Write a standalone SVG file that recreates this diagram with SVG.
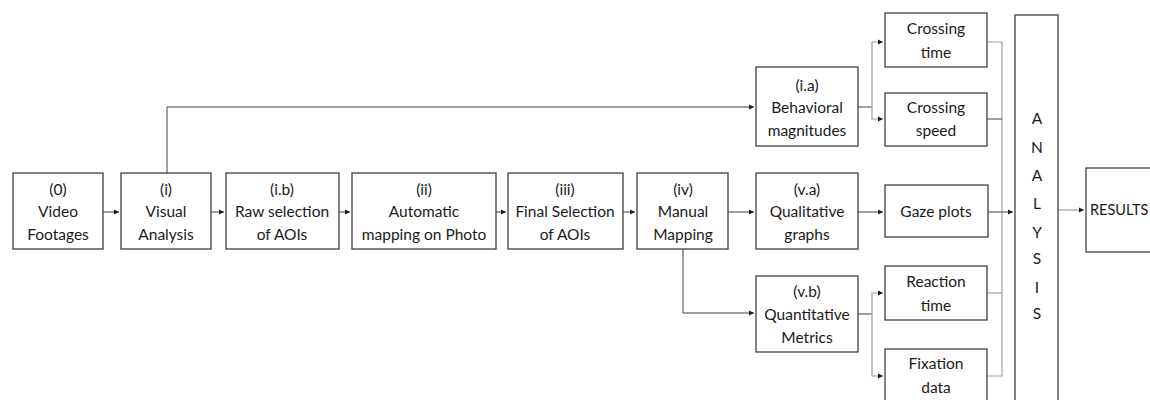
<svg xmlns="http://www.w3.org/2000/svg" width="1150" height="400" viewBox="0 0 1150 400">
<defs>
<marker id="ah" markerWidth="6" markerHeight="6" refX="5" refY="3" orient="auto" markerUnits="userSpaceOnUse">
<path d="M0,0.5 L5,3 L0,5.5 Z" fill="#1a1a1a"/>
</marker>
<style>
.box{fill:#fff;stroke:#404040;stroke-width:1.3}
.t{font-family:Lato,"Open Sans","Liberation Sans",sans-serif;font-size:15.5px;fill:#1a1a1a;text-anchor:middle}
.c{fill:none;stroke:#404040;stroke-width:1}
.g{fill:none;stroke:#a0a0a0;stroke-width:1.2}
</style>
</defs>
<rect width="1150" height="400" fill="#fff"/>
<g id="connectors">
<path class="c" d="M103,212 H119" marker-end="url(#ah)"/>
<path class="c" d="M211,212 H224" marker-end="url(#ah)"/>
<path class="c" d="M339,212 H350" marker-end="url(#ah)"/>
<path class="c" d="M496,212 H506" marker-end="url(#ah)"/>
<path class="c" d="M623,212 H635" marker-end="url(#ah)"/>
<path class="c" d="M728,212 H754" marker-end="url(#ah)"/>
<path class="c" d="M858,212 H883" marker-end="url(#ah)"/>
<path class="c" d="M167,173 V107 H754" marker-end="url(#ah)"/>
<path class="c" d="M683,249 V313 H754" marker-end="url(#ah)"/>
<path class="c" d="M858,107 H872"/>
<path class="g" d="M872,107 V42 H883" marker-end="url(#ah)"/>
<path class="g" d="M872,107 V119 H883" marker-end="url(#ah)"/>
<path class="c" d="M858,314 H872"/>
<path class="g" d="M872,314 V293 H883" marker-end="url(#ah)"/>
<path class="g" d="M872,314 V376 H883" marker-end="url(#ah)"/>
<path class="g" d="M987,42 H1002 V376 H987"/>
<path class="c" d="M987,119 H1002"/>
<path class="g" d="M987,293 H1002"/>
<path class="c" d="M988,212 H1013" marker-end="url(#ah)"/>
<path class="g" d="M1058,210 H1084" marker-end="url(#ah)"/>
</g>
<g id="n0"><rect class="box" x="13" y="173" width="90" height="76"/>
<text class="t" x="58" y="195">(0)</text><text class="t" x="58" y="217">Video</text><text class="t" x="58" y="240">Footages</text></g>
<g id="n1"><rect class="box" x="121" y="173" width="90" height="76"/>
<text class="t" x="166" y="195">(i)</text><text class="t" x="166" y="217">Visual</text><text class="t" x="166" y="240">Analysis</text></g>
<g id="n1b"><rect class="box" x="226" y="173" width="113" height="76"/>
<text class="t" x="282" y="195">(i.b)</text><text class="t" x="282" y="217">Raw selection</text><text class="t" x="282" y="240">of AOIs</text></g>
<g id="n2"><rect class="box" x="352" y="173" width="144" height="76"/>
<text class="t" x="424" y="195">(ii)</text><text class="t" x="424" y="217">Automatic</text><text class="t" x="424" y="240">mapping on Photo</text></g>
<g id="n3"><rect class="box" x="508" y="173" width="115" height="76"/>
<text class="t" x="565" y="195">(iii)</text><text class="t" x="565" y="217">Final Selection</text><text class="t" x="565" y="240">of AOIs</text></g>
<g id="n4"><rect class="box" x="637" y="173" width="91" height="76"/>
<text class="t" x="683" y="195">(iv)</text><text class="t" x="683" y="217">Manual</text><text class="t" x="683" y="240">Mapping</text></g>
<g id="n1a"><rect class="box" x="756" y="67" width="102" height="79"/>
<text class="t" x="807" y="91">(i.a)</text><text class="t" x="807" y="113">Behavioral</text><text class="t" x="807" y="136">magnitudes</text></g>
<g id="n5a"><rect class="box" x="756" y="173" width="102" height="76"/>
<text class="t" x="807" y="195">(v.a)</text><text class="t" x="807" y="217">Qualitative</text><text class="t" x="807" y="240">graphs</text></g>
<g id="n5b"><rect class="box" x="756" y="276" width="102" height="76"/>
<text class="t" x="807" y="297">(v.b)</text><text class="t" x="807" y="320">Quantitative</text><text class="t" x="807" y="343">Metrics</text></g>
<g id="ct"><rect class="box" x="885" y="13" width="102" height="54"/>
<text class="t" x="936" y="34">Crossing</text><text class="t" x="936" y="58">time</text></g>
<g id="cs"><rect class="box" x="885" y="93" width="102" height="53"/>
<text class="t" x="936" y="113">Crossing</text><text class="t" x="936" y="136">speed</text></g>
<g id="gp"><rect class="box" x="885" y="185" width="103" height="52"/>
<text class="t" x="936" y="217">Gaze plots</text></g>
<g id="rt"><rect class="box" x="885" y="266" width="102" height="54"/>
<text class="t" x="936" y="287">Reaction</text><text class="t" x="936" y="311">time</text></g>
<g id="fd"><rect class="box" x="885" y="349" width="102" height="56"/>
<text class="t" x="936" y="369">Fixation</text><text class="t" x="936" y="393">data</text></g>
<g id="analysis"><rect class="box" x="1015" y="15" width="43" height="392"/>
<text class="t" x="1037" y="124">A</text><text class="t" x="1037" y="153">N</text><text class="t" x="1037" y="181">A</text><text class="t" x="1037" y="209">L</text><text class="t" x="1037" y="238">Y</text><text class="t" x="1037" y="264">S</text><text class="t" x="1037" y="293">I</text><text class="t" x="1037" y="319">S</text></g>
<g id="results"><rect class="box" x="1086" y="168" width="70" height="84"/>
<text class="t" x="1090" y="215" style="text-anchor:start;font-size:14.5px">RESULTS</text></g>
</svg>
